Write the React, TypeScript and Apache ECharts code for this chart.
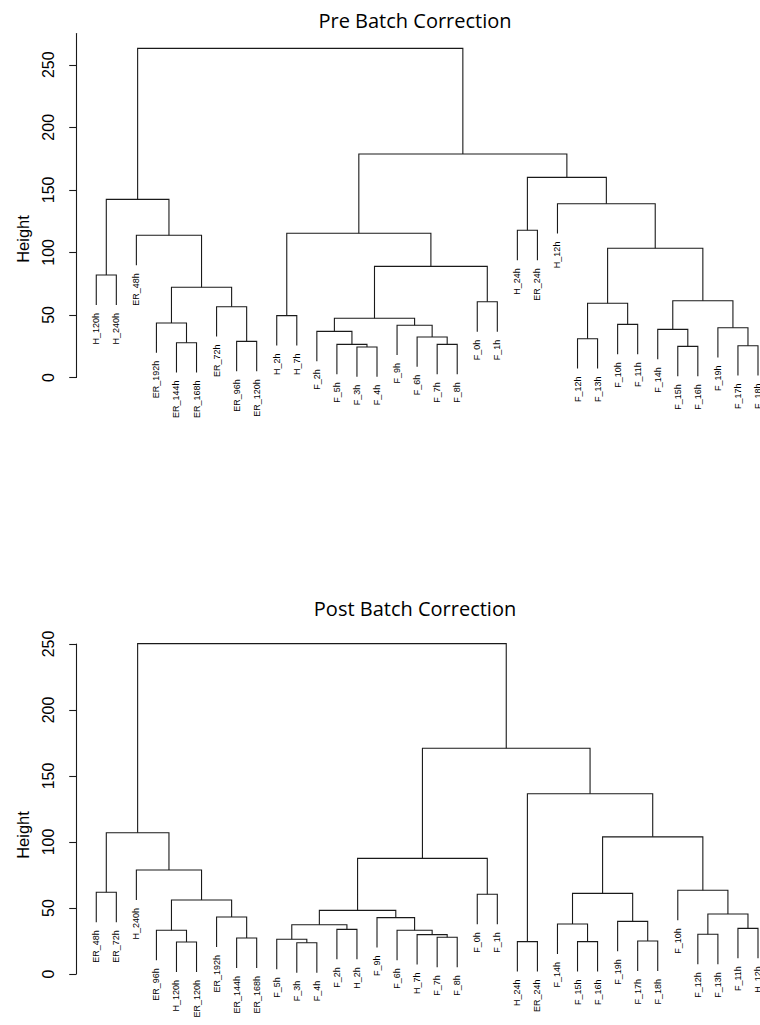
import React, { useEffect, useRef } from "react";
import * as echarts from "echarts";

// ---------- data ----------
const TITLES = ["Pre Batch Correction", "Post Batch Correction"];
const Y_NAME = "Height";
const Y_TICKS = [0, 50, 100, 150, 200, 250];

// leaf order (left to right) of the pre-correction dendrogram
const PRE_LEAVES = [
  "H_120h", "H_240h", "ER_48h", "ER_192h", "ER_144h", "ER_168h", "ER_72h", "ER_96h", "ER_120h",
  "H_2h", "H_7h", "F_2h", "F_5h", "F_3h", "F_4h", "F_9h", "F_6h", "F_7h", "F_8h", "F_0h", "F_1h",
  "H_24h", "ER_24h", "H_12h", "F_12h", "F_13h", "F_10h", "F_11h", "F_14h", "F_15h", "F_16h",
  "F_19h", "F_17h", "F_18h",
];
// merges: [child A, child B, height]; a number refers to an earlier merge (0-based)
const PRE_MERGES: [string | number, string | number, number][] = [
  ["H_120h", "H_240h", 81.9],
  ["ER_144h", "ER_168h", 27.8],
  ["ER_192h", 1, 43.6],
  ["ER_96h", "ER_120h", 28.9],
  ["ER_72h", 3, 56.6],
  [2, 4, 72.1],
  ["ER_48h", 5, 113.7],
  [0, 6, 142.4],
  ["H_2h", "H_7h", 49.5],
  ["F_3h", "F_4h", 24.4],
  ["F_5h", 9, 26.5],
  ["F_2h", 10, 36.9],
  ["F_7h", "F_8h", 26.5],
  ["F_6h", 12, 32.4],
  ["F_9h", 13, 41.8],
  [11, 14, 47.4],
  ["F_0h", "F_1h", 60.5],
  [15, 16, 88.8],
  [8, 17, 115.3],
  ["H_24h", "ER_24h", 117.7],
  ["F_12h", "F_13h", 31.0],
  ["F_10h", "F_11h", 42.5],
  [20, 21, 59.3],
  ["F_15h", "F_16h", 24.9],
  ["F_14h", 23, 38.5],
  ["F_17h", "F_18h", 25.4],
  ["F_19h", 25, 39.8],
  [24, 26, 61.4],
  [22, 27, 103.3],
  ["H_12h", 28, 138.9],
  [19, 29, 160.0],
  [18, 30, 178.7],
  [7, 31, 263.1],
];

const POST_LEAVES = [
  "ER_48h", "ER_72h", "H_240h", "ER_96h", "H_120h", "ER_120h", "ER_192h", "ER_144h", "ER_168h",
  "F_5h", "F_3h", "F_4h", "F_2h", "H_2h", "F_9h", "F_6h", "H_7h", "F_7h", "F_8h", "F_0h", "F_1h",
  "H_24h", "ER_24h", "F_14h", "F_15h", "F_16h", "F_19h", "F_17h", "F_18h", "F_10h", "F_12h",
  "F_13h", "F_11h", "H_12h",
];
const POST_MERGES: [string | number, string | number, number][] = [
  ["ER_48h", "ER_72h", 61.9],
  ["H_120h", "ER_120h", 24.2],
  ["ER_96h", 1, 33.1],
  ["ER_144h", "ER_168h", 27.3],
  ["ER_192h", 3, 43.2],
  [2, 4, 56.1],
  ["H_240h", 5, 78.8],
  [0, 6, 107.0],
  ["F_3h", "F_4h", 23.7],
  ["F_5h", 8, 26.3],
  ["F_2h", "H_2h", 33.8],
  [9, 10, 37.3],
  ["F_7h", "F_8h", 27.8],
  ["H_7h", 12, 29.8],
  ["F_6h", 13, 33.1],
  ["F_9h", 14, 42.7],
  [11, 15, 48.2],
  ["F_0h", "F_1h", 60.4],
  [16, 17, 87.6],
  ["H_24h", "ER_24h", 24.5],
  ["F_15h", "F_16h", 24.5],
  ["F_14h", 20, 37.9],
  ["F_17h", "F_18h", 25.0],
  ["F_19h", 22, 39.9],
  [21, 23, 61.1],
  ["F_12h", "F_13h", 30.1],
  ["F_11h", "H_12h", 34.6],
  [25, 26, 45.5],
  ["F_10h", 27, 63.4],
  [24, 28, 103.9],
  [19, 29, 136.6],
  [18, 30, 171.0],
  [7, 31, 250.3],
];

// ---------- dendrogram layout (R plot.hclust rules: leaves at 1..n, node at children midpoint, hang 0.1) ----------
function layoutTree(leaves: string[], merges: [string | number, string | number, number][]) {
  const xOf = new Map<string, number>();
  leaves.forEach((l, i) => xOf.set(l, i + 1));
  const hs = merges.map((m) => m[2]);
  const hang = 0.1 * (Math.max(...hs) - Math.min(...hs));
  const nodeX: number[] = [];
  const links: number[][] = [];
  const leafRows: [number, number, string][] = [];
  merges.forEach(([a, b, h], k) => {
    const child = (c: string | number): [number, number] => {
      if (typeof c === "number") return [nodeX[c], merges[c][2]];
      const x = xOf.get(c) as number;
      leafRows.push([x, h - hang, c]);
      return [x, h - hang];
    };
    const [xa, ya] = child(a);
    const [xb, yb] = child(b);
    nodeX[k] = (xa + xb) / 2;
    links.push([xa, ya, xb, yb, h]);
  });
  return { links, leafRows, n: leaves.length };
}

const FONT = "'Liberation Sans', Arial, Helvetica, sans-serif";

export default function App() {
  const ref = useRef<HTMLDivElement>(null);
  useEffect(() => {
    if (!ref.current) return;
    const chart = echarts.init(ref.current, undefined, { renderer: "svg" });
    const trees = [layoutTree(PRE_LEAVES, PRE_MERGES), layoutTree(POST_LEAVES, POST_MERGES)];
    const yMax = [275, 250];
    // the plot region runs past the right edge of the picture; the x range is cut at the page edge
    const grids = [
      { left: 69.8, top: 33.5, width: 690.2, height: 344 },
      { left: 69.8, top: 644, width: 690.2, height: 330 },
    ];
    const series: any[] = [];
    trees.forEach((t, gi) => {
      series.push({
        type: "custom",
        xAxisIndex: gi,
        yAxisIndex: gi,
        clip: false,
        silent: true,
        data: t.links,
        renderItem: (_p: any, api: any) => {
          const p1 = api.coord([api.value(0), api.value(1)]);
          const p2 = api.coord([api.value(0), api.value(4)]);
          const p3 = api.coord([api.value(2), api.value(4)]);
          const p4 = api.coord([api.value(2), api.value(3)]);
          return {
            type: "polyline",
            shape: { points: [p1, p2, p3, p4] },
            style: { stroke: "#1a1a1a", lineWidth: 1.1, fill: null },
          };
        },
      });
      const rows = t.leafRows;
      series.push({
        type: "custom",
        xAxisIndex: gi,
        yAxisIndex: gi,
        clip: false,
        silent: true,
        data: rows.map((r) => [r[0], r[1]]),
        renderItem: (p: any, api: any) => {
          const [x, y] = api.coord([api.value(0), api.value(1)]);
          return {
            type: "text",
            x,
            y: y + 8,
            rotation: Math.PI / 2,
            style: {
              text: rows[p.dataIndex][2],
              align: "right",
              verticalAlign: "middle",
              fontSize: 9,
              fontFamily: FONT,
              fill: "#000",
            },
          };
        },
      });
    });

    const option: any = {
      animation: false,
      backgroundColor: "#fff",
      grid: grids,
      xAxis: grids.map((_g, i) => ({
        type: "value",
        gridIndex: i,
        min: -0.32,
        max: 34.1,
        show: false,
      })),
      yAxis: grids.map((_g, i) => ({
        type: "value",
        gridIndex: i,
        min: 0,
        max: yMax[i],
        axisLine: { show: true, lineStyle: { color: "#1a1a1a", width: 1.1 } },
        axisTick: { show: true, length: 7, lineStyle: { color: "#1a1a1a", width: 1.1 }, customValues: Y_TICKS },
        axisLabel: {
          rotate: 90,
          margin: 13,
          fontSize: 16,
          color: "#000",
          fontFamily: FONT,
          customValues: Y_TICKS,
        },
        splitLine: { show: false },
      })),
      graphic: [
        {
          type: "text",
          x: 415,
          y: 20.7,
          style: { text: TITLES[0], fontSize: 20, fontFamily: "'Open Sans', sans-serif", fill: "#000", align: "center", verticalAlign: "middle" },
        },
        {
          type: "text",
          x: 415,
          y: 608,
          style: { text: TITLES[1], fontSize: 20, fontFamily: "'Open Sans', sans-serif", fill: "#000", align: "center", verticalAlign: "middle" },
        },
        {
          type: "text",
          x: 23,
          y: 239,
          rotation: Math.PI / 2,
          style: { text: Y_NAME, fontSize: 16.5, fontFamily: FONT, fill: "#000", align: "center", verticalAlign: "middle" },
        },
        {
          type: "text",
          x: 23,
          y: 835,
          rotation: Math.PI / 2,
          style: { text: Y_NAME, fontSize: 16.5, fontFamily: FONT, fill: "#000", align: "center", verticalAlign: "middle" },
        },
      ],
      series,
    };
    chart.setOption(option);
    return () => chart.dispose();
  }, []);
  return (
    <div
      ref={ref}
      style={{ position: "fixed", left: 0, top: 0, width: 760, height: 1025, background: "#fff" }}
    />
  );
}
